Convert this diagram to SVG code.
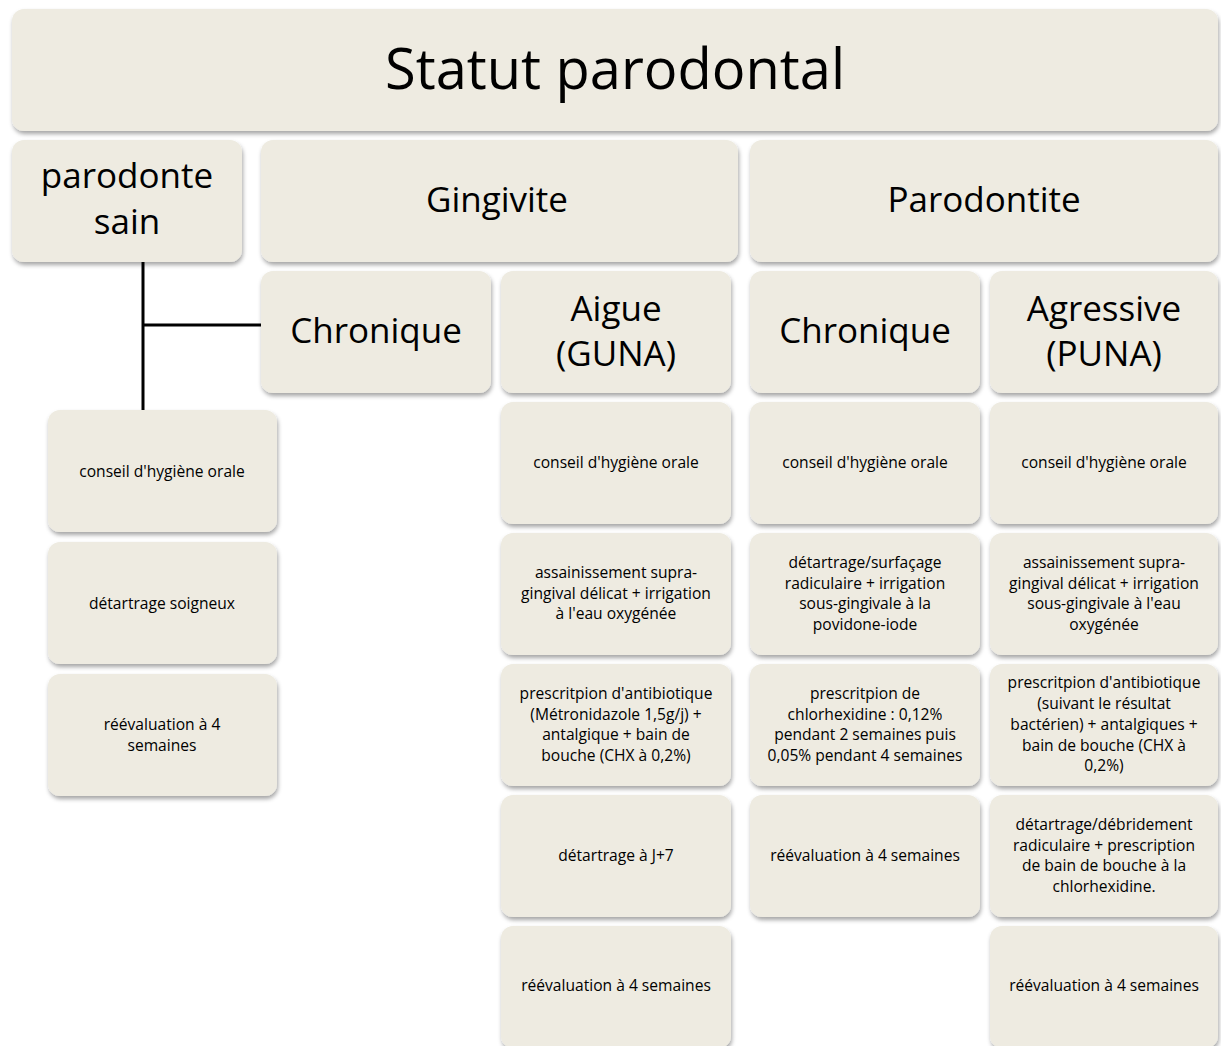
<svg xmlns="http://www.w3.org/2000/svg" width="1221" height="1046" viewBox="0 0 1221 1046">
<defs>
<filter id="sh" x="-10%" y="-10%" width="120%" height="130%">
<feDropShadow dx="1" dy="3" stdDeviation="2" flood-color="#000" flood-opacity="0.35"/>
</filter>
<style>
.b{fill:#EEEBE1;filter:url(#sh)}
text{font-family:"Open Sans","Noto Sans","Liberation Sans",sans-serif;fill:#000;text-anchor:middle}
.t0{font-size:56px}
.t1{font-size:35px}
.t2{font-size:15.6px}
.c{stroke:#000;stroke-width:3;fill:none}
</style>
</defs>
<rect width="1221" height="1046" fill="#fff"/>
<g id="connectors">
<path class="c" d="M143 255V423M143 325H263"/>
</g>
<g id="statut"><rect class="b" x="12" y="9" width="1206" height="122" rx="12"/><text class="t0" x="615" y="89">Statut parodontal</text></g>
<g id="sain"><rect class="b" x="12" y="140" width="230" height="122" rx="12"/><text class="t1" x="127" y="188">parodonte</text><text class="t1" x="127" y="234">sain</text></g>
<g id="gingivite"><rect class="b" x="261" y="140" width="477" height="122" rx="12"/><text class="t1" x="497" y="212">Gingivite</text></g>
<g id="parodontite"><rect class="b" x="750" y="140" width="468" height="122" rx="12"/><text class="t1" x="984" y="212">Parodontite</text></g>
<g id="g-chronique"><rect class="b" x="261" y="271" width="230" height="122" rx="12"/><text class="t1" x="376" y="343">Chronique</text></g>
<g id="g-aigue"><rect class="b" x="501" y="271" width="230" height="122" rx="12"/><text class="t1" x="616" y="321">Aigue</text><text class="t1" x="616" y="366">(GUNA)</text></g>
<g id="p-chronique"><rect class="b" x="750" y="271" width="230" height="122" rx="12"/><text class="t1" x="865" y="343">Chronique</text></g>
<g id="p-agressive"><rect class="b" x="990" y="271" width="228" height="122" rx="12"/><text class="t1" x="1104" y="321">Agressive</text><text class="t1" x="1104" y="366">(PUNA)</text></g>

<g id="s1"><rect class="b" x="48" y="410" width="229" height="122" rx="12"/><text class="t2" x="162" y="477">conseil d'hygiène orale</text></g>
<g id="s2"><rect class="b" x="48" y="542" width="229" height="122" rx="12"/><text class="t2" x="162" y="609">détartrage soigneux</text></g>
<g id="s3"><rect class="b" x="48" y="674" width="229" height="122" rx="12"/><text class="t2" x="162" y="730">réévaluation à 4</text><text class="t2" x="162" y="751">semaines</text></g>

<g id="a1"><rect class="b" x="501" y="402" width="230" height="122" rx="12"/><text class="t2" x="616" y="468">conseil d'hygiène orale</text></g>
<g id="a2"><rect class="b" x="501" y="533" width="230" height="122" rx="12"/><text class="t2" x="616" y="578">assainissement supra-</text><text class="t2" x="616" y="599">gingival délicat + irrigation</text><text class="t2" x="616" y="619">à l'eau oxygénée</text></g>
<g id="a3"><rect class="b" x="501" y="664" width="230" height="122" rx="12"/><text class="t2" x="616" y="699">prescritpion d'antibiotique</text><text class="t2" x="616" y="720">(Métronidazole 1,5g/j) +</text><text class="t2" x="616" y="740">antalgique + bain de</text><text class="t2" x="616" y="761">bouche (CHX à 0,2%)</text></g>
<g id="a4"><rect class="b" x="501" y="795" width="230" height="122" rx="12"/><text class="t2" x="616" y="861">détartrage à J+7</text></g>
<g id="a5"><rect class="b" x="501" y="926" width="230" height="122" rx="12"/><text class="t2" x="616" y="991">réévaluation à 4 semaines</text></g>

<g id="c1"><rect class="b" x="750" y="402" width="230" height="122" rx="12"/><text class="t2" x="865" y="468">conseil d'hygiène orale</text></g>
<g id="c2"><rect class="b" x="750" y="533" width="230" height="122" rx="12"/><text class="t2" x="865" y="568">détartrage/surfaçage</text><text class="t2" x="865" y="589">radiculaire + irrigation</text><text class="t2" x="865" y="609">sous-gingivale à la</text><text class="t2" x="865" y="630">povidone-iode</text></g>
<g id="c3"><rect class="b" x="750" y="664" width="230" height="122" rx="12"/><text class="t2" x="865" y="699">prescritpion de</text><text class="t2" x="865" y="720">chlorhexidine : 0,12%</text><text class="t2" x="865" y="740">pendant 2 semaines puis</text><text class="t2" x="865" y="761">0,05% pendant 4 semaines</text></g>
<g id="c4"><rect class="b" x="750" y="795" width="230" height="122" rx="12"/><text class="t2" x="865" y="861">réévaluation à 4 semaines</text></g>

<g id="r1"><rect class="b" x="990" y="402" width="228" height="122" rx="12"/><text class="t2" x="1104" y="468">conseil d'hygiène orale</text></g>
<g id="r2"><rect class="b" x="990" y="533" width="228" height="122" rx="12"/><text class="t2" x="1104" y="568">assainissement supra-</text><text class="t2" x="1104" y="589">gingival délicat + irrigation</text><text class="t2" x="1104" y="609">sous-gingivale à l'eau</text><text class="t2" x="1104" y="630">oxygénée</text></g>
<g id="r3"><rect class="b" x="990" y="664" width="228" height="122" rx="12"/><text class="t2" x="1104" y="688">prescritpion d'antibiotique</text><text class="t2" x="1104" y="709">(suivant le résultat</text><text class="t2" x="1104" y="730">bactérien) + antalgiques +</text><text class="t2" x="1104" y="751">bain de bouche (CHX à</text><text class="t2" x="1104" y="771">0,2%)</text></g>
<g id="r4"><rect class="b" x="990" y="795" width="228" height="122" rx="12"/><text class="t2" x="1104" y="830">détartrage/débridement</text><text class="t2" x="1104" y="851">radiculaire + prescription</text><text class="t2" x="1104" y="871">de bain de bouche à la</text><text class="t2" x="1104" y="892">chlorhexidine.</text></g>
<g id="r5"><rect class="b" x="990" y="926" width="228" height="122" rx="12"/><text class="t2" x="1104" y="991">réévaluation à 4 semaines</text></g>
</svg>
